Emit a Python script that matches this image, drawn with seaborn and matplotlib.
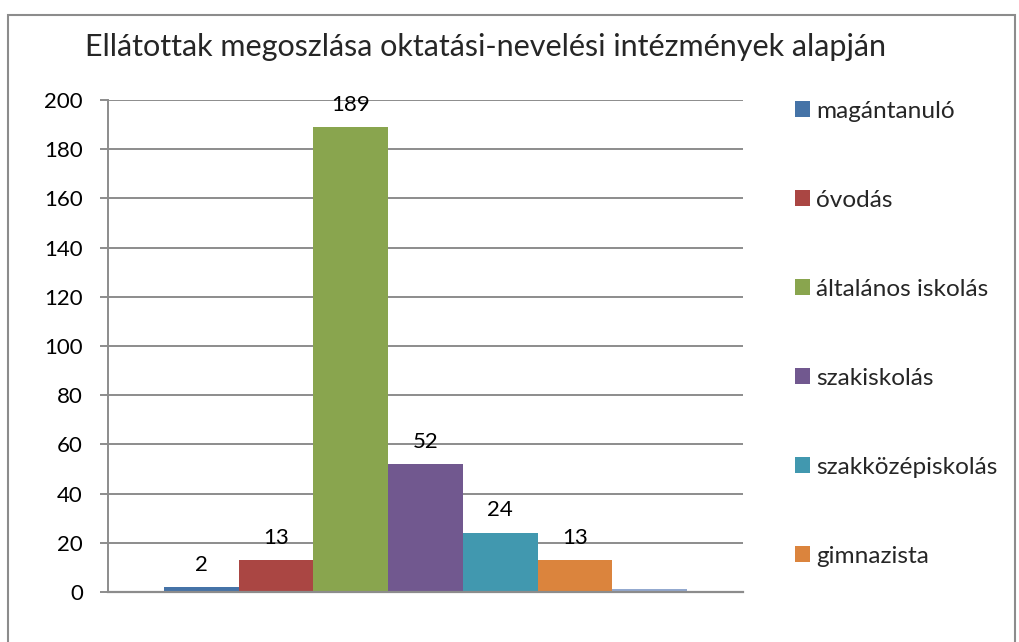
import matplotlib.pyplot as plt
import pandas as pd
import seaborn as sns
from matplotlib.patches import Patch, Rectangle

# data
categories = ["magántanuló", "óvodás", "általános iskolás", "szakiskolás",
              "szakközépiskolás", "gimnazista", "egyéb"]
values = [2, 13, 189, 52, 24, 13, 1.4]
colors = ["#4573A7", "#AA4643", "#89A54E", "#71588F", "#4198AF", "#DB843D", "#93A9CF"]
yticks = [0, 20, 40, 60, 80, 100, 120, 140, 160, 180, 200]
title = "Ellátottak megoszlása oktatási-nevelési intézmények alapján"

df = pd.DataFrame({"group": ["1"] * len(categories), "category": categories, "value": values})

sns.set_theme(style="white")
plt.rcParams["font.family"] = ["Lato", "DejaVu Sans"]

fig = plt.figure(figsize=(10.19, 6.42), dpi=100)
ax = fig.add_axes([0.106, 0.0779, 0.623, 0.7663])

sns.barplot(data=df, x="group", y="value", hue="category", palette=colors,
            hue_order=categories, width=0.824, saturation=1, legend=False,
            linewidth=0, ax=ax)

# data labels (last bar has none)
for cont in ax.containers[:-1]:
    ax.bar_label(cont, padding=9, fontsize=16, color="black")

ax.set_ylim(0, 200)
ax.set_xlim(-0.5, 0.5)
ax.set_yticks(yticks)
ax.set_xticks([])
ax.set_xlabel("")
ax.set_ylabel("")
ax.yaxis.grid(True, color="#8c8c8c", linewidth=1.4)
ax.set_axisbelow(True)
for side in ["top", "right"]:
    ax.spines[side].set_visible(False)
ax.spines["left"].set_color("#8c8c8c")
ax.spines["left"].set_linewidth(1.4)
ax.spines["bottom"].set_color("#8c8c8c")
ax.spines["bottom"].set_linewidth(1.6)
ax.tick_params(axis="y", left=True, length=6, width=1.4, color="#8c8c8c",
               pad=12, labelsize=16, labelcolor="black")

fig.text(85 / 1019, 1 - 47 / 642, title, fontsize=22, va="center", ha="left")

# legend shows only the first six series
handles = [Patch(facecolor=c, edgecolor="none") for c in colors[:6]]
fig.legend(handles, categories[:6], loc="upper left",
           bbox_to_anchor=(785 / 1019, 1 - 91 / 642), frameon=False,
           fontsize=17.6, handlelength=0.62, handleheight=0.62, handletextpad=0.25,
           labelspacing=2.78, borderaxespad=0)

# chart-area border
fig.patches.append(Rectangle((8 / 1019, -0.1), 1007 / 1019, 1.1 - 15 / 642,
                             transform=fig.transFigure, fill=False,
                             edgecolor="#8c8c8c", linewidth=1.5))

fig.savefig("out.png", dpi=100)
